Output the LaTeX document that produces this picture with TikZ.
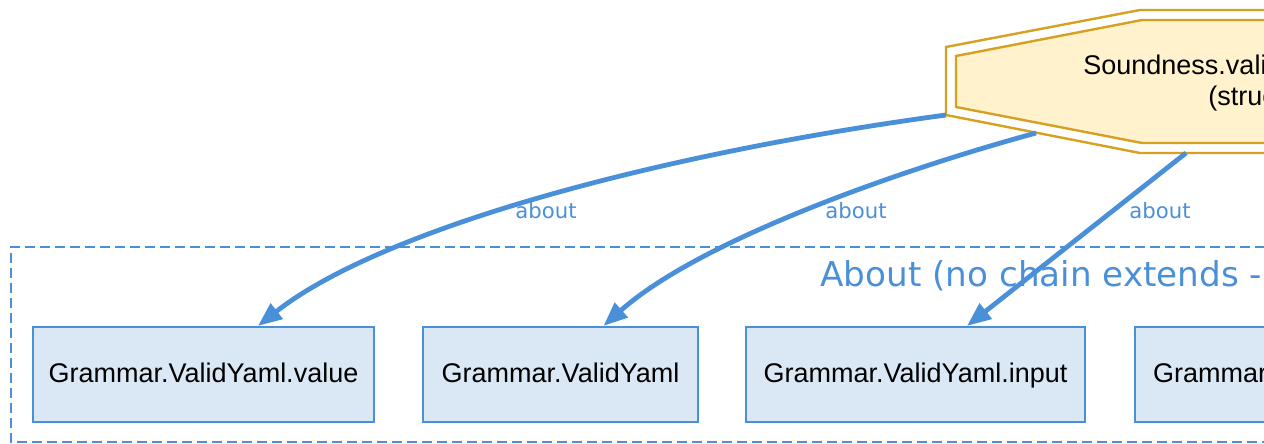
\documentclass[tikz,border=0pt]{standalone}
\usepackage{fontspec}
\setmainfont{Liberation Sans}
\newfontfamily\labelfont{DejaVu Sans}
\usepackage{tikz}
\usetikzlibrary{arrows.meta}
\definecolor{edgeblue}{HTML}{4A90D9}
\definecolor{boxfill}{HTML}{DAE8F5}
\definecolor{octline}{HTML}{D6A020}
\definecolor{octfill}{HTML}{FFF2CC}

\begin{document}
\begin{tikzpicture}[x=0.5pt,y=-0.5pt,-{Triangle[length=12pt,width=9.5pt]}]
  \tikzstyle{box}=[rectangle, draw=edgeblue, fill=boxfill, line width=1.1pt, inner sep=0pt, minimum height=47.5pt, text height=10pt, text depth=2.5pt, font=\fontsize{13.5}{16}\selectfont]
  \tikzstyle{about}=[edgeblue, line width=2.4pt]
  \tikzstyle{elabel}=[text=edgeblue, font=\labelfont\fontsize{10.6}{12}\selectfont, inner sep=0pt]
  \useasboundingbox (0,0) rectangle (1264,444);
  \clip (0,0) rectangle (1264,444);

  % cluster
  \draw[-, edgeblue, line width=0.8pt, dash pattern=on 5pt off 2.5pt] (1400,247) -- (11,247) -- (11,442) -- (1400,442);
  \node[anchor=base west, text=edgeblue, inner sep=0pt, font=\labelfont\fontsize{17.1}{20}\selectfont] (C_1) at (820,286) {About (no chain extends -};

  \node[box, minimum width=170.5pt] (B_1) at (203.5,374.5) {Grammar.ValidYaml.value};
  \node[box, minimum width=137.5pt] (B_2) at (560.5,374.5) {Grammar.ValidYaml};
  \node[box, minimum width=169.5pt] (B_3) at (915.5,374.5) {Grammar.ValidYaml.input};
  \node[box, anchor=west, text width=150pt, align=left, inner xsep=9pt] (B_4) at (1134,374.5) {Grammar};

  % double octagon
  \draw[-, octline, line width=1.2pt] (1400,10) -- (1140,10) -- (946,47) -- (946,115) -- (1140,153) -- (1400,153);
  \draw[-, octline, fill=octfill, line width=1.2pt] (1400,20) -- (1142,20) -- (956,56) -- (956,107) -- (1142,143) -- (1400,143);
  \node[anchor=base west, inner sep=0pt, font=\fontsize{13.5}{16}\selectfont] (S_1) at (1083,75) {Soundness.vali};
  \node[anchor=base west, inner sep=0pt, font=\fontsize{13.5}{16}\selectfont] (S_2) at (1208,105) {(struc};
  \coordinate (O_1) at (946,115);
  \coordinate (O_2) at (1036,133);
  \coordinate (O_3) at (1186,153);

  \draw[about] (O_1) .. controls (650,155) and (380,230) .. ([xshift=27.25pt]B_1.north);
  \draw[about] (O_2) .. controls (900,170) and (700,240) .. ([xshift=21.5pt]B_2.north);
  \draw[about] (O_3) -- ([xshift=25.75pt]B_3.north);

  \node[elabel] (L_1) at (546,211) {about};
  \node[elabel] (L_2) at (856,211) {about};
  \node[elabel] (L_3) at (1160,211) {about};
\end{tikzpicture}
\end{document}
